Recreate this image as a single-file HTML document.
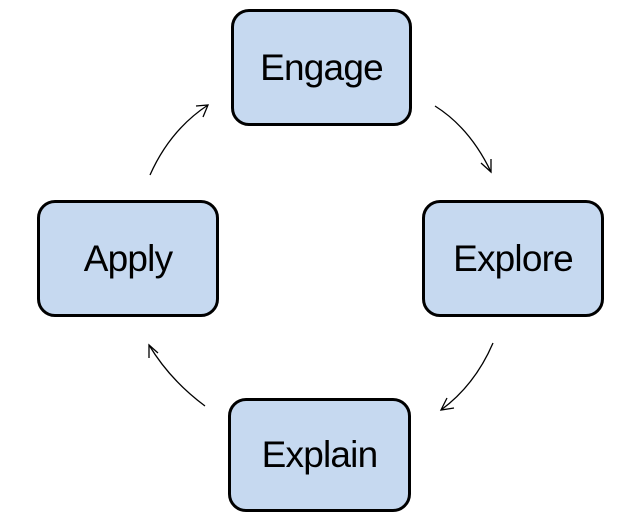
<!DOCTYPE html>
<html><head><style>
html,body{margin:0;padding:0;background:#fff;}
body{width:619px;height:524px;position:relative;overflow:hidden;font-family:"Liberation Sans",sans-serif;}
.b{position:absolute;box-sizing:border-box;background:#c6d9f0;border:3px solid #000;border-radius:18px;display:flex;align-items:center;justify-content:center;font-size:37px;color:#000;letter-spacing:-0.8px;}
svg{position:absolute;left:0;top:0;}
</style></head><body>
<div class="b" style="left:231px;top:9px;width:181px;height:117px;">Engage</div>
<div class="b" style="left:37px;top:200px;width:182px;height:117px;">Apply</div>
<div class="b" style="left:422px;top:200px;width:182px;height:117px;">Explore</div>
<div class="b" style="left:228px;top:398px;width:183px;height:114px;">Explain</div>
<svg width="619" height="524" fill="none" stroke="#000" stroke-width="1.3">
<path d="M435 106 Q470 128 491 172"/><path d="M481 163 L491 172 L491 159"/>
<path d="M493 343 Q475 385 441 410"/><path d="M447 398 L441 410 L454 408"/>
<path d="M205 406 Q170 380 149 345"/><path d="M149 358 L149 345 L158 353"/>
<path d="M150 175 Q170 130 208 105"/><path d="M196 106 L208 105 L203 117"/>
</svg>
</body></html>
